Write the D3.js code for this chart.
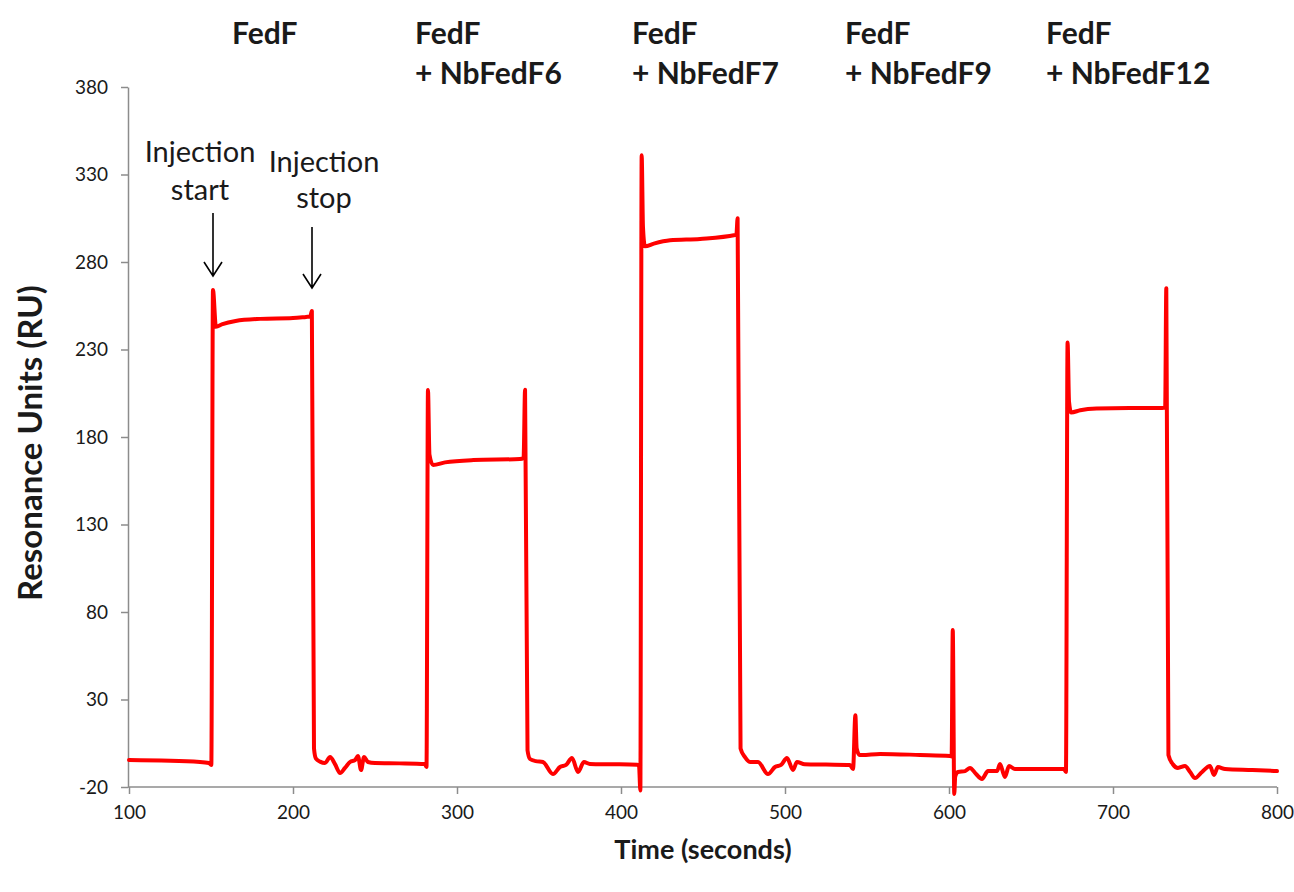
<!DOCTYPE html>
<html>
<head>
<meta charset="utf-8">
<script src="https://cdn.jsdelivr.net/npm/d3@7"></script>
<style>
  html, body { margin: 0; padding: 0; background: #fff; }
  svg { display: block; font-family: Lato, "Open Sans", sans-serif; }
</style>
</head>
<body>
<svg id="chart" width="1294" height="892"></svg>
<script>
// ---- data ----
const timeSec = [
  100, 143.3, 148.8, 150.2, 151.2, 153, 157, 165, 180, 200, 208, 210.5, 211.5, 212.8, 214, 216.5,
  219.5, 222.6, 225.6, 228.7, 231.7, 234.8, 237.8, 239.6, 241.5, 243.3, 245.7, 250, 265, 280.5, 281.4,
  282.3, 283.2, 285.4, 292.7, 310, 338.4, 340.6, 341.5, 343, 344.5, 348,
  352.4, 358.5, 362.8, 366.5, 370.1, 373.8, 377.4, 381, 395, 409.8, 411, 411.8,
  412.6, 413.4, 414.6, 420, 429.9, 448.2, 469.6, 470.4, 471.1, 472.9, 475.6, 478.7,
  483.5, 489.6, 493.9, 497.6, 501.2, 504.9, 507.3, 512, 525, 539.6, 541.5,
  542.9, 543.7, 545.5, 547, 558, 582.3, 600.6, 601.6, 602.3, 603.2, 603.8, 605.5,
  609.8, 612.8, 616.5, 620.1, 623.8, 629.3, 631.1, 634.1, 636.6, 640.2, 655, 670.1, 671.3,
  672.3, 673.2, 674.5, 680, 690, 710, 730, 731.8, 732.5, 733.8, 736.5, 739.6,
  743.9, 747, 750, 754.3, 759.1, 761.6, 764, 768.3, 785, 800
];
const ruValues = [
  -4.6, -5.7, -6.3, -7.4, 264, 243, 244.5, 246.3, 247.5, 248, 248.6, 248.8, 252, 2, -3.8, -5.5,
  -6.3, -2.9, -6.9, -12, -9.1, -5.7, -4.6, -2.3, -10.3, -2.9, -5.7, -6.3, -6.5, -6.9, -8.6,
  206.9, 170, 164, 165.5, 166.8, 167.4, 168, 207, 1, -4, -5.2,
  -5.7, -12.6, -8.6, -7.4, -3.4, -11.4, -5.7, -6.8, -7, -7.3, -8, -22,
  341, 300, 289, 290.5, 292.4, 293.2, 295.4, 296, 305, 2, -2.9, -5.7,
  -5.7, -12.6, -8.6, -7.4, -3.4, -10.3, -5.7, -7, -7.2, -7.4, -9.7,
  21, 2, -1.7, -1.7, -1.1, -1.7, -2.3, -2.6, 69.7, -24, -14, -11.4,
  -10.9, -9.1, -12.6, -15.4, -10.9, -10.9, -6.9, -14.3, -8, -9.7, -9.7, -9.7, -11.4,
  234, 200, 194, 195.3, 196.3, 196.6, 196.6, 196.8, 265, -1.7, -7, -9.1,
  -8, -11.4, -14.9, -11.4, -8, -13.1, -8.6, -9.7, -10.3, -10.9
];
const xTicks = [100, 200, 300, 400, 500, 600, 700, 800];
const yTicks = [-20, 30, 80, 130, 180, 230, 280, 330, 380];
const sampleLine1 = ["FedF", "FedF", "FedF", "FedF", "FedF"];
const sampleLine2 = ["", "+ NbFedF6", "+ NbFedF7", "+ NbFedF9", "+ NbFedF12"];
const noteLine1 = ["Injection", "Injection"];
const noteLine2 = ["start", "stop"];
const xTitle = "Time (seconds)";
const yTitle = "Resonance Units (RU)";

// ---- layout ----
const plot = { left: 129, right: 1277, top: 87, bottom: 787 };
const sampleLabelX = [232, 415, 632, 845, 1046];
const sampleY1 = 44, sampleY2 = 84;
const notes = [
  { cx: 200, y1: 162, y2: 200, ax: 213, ay1: 213, ay2: 276 },
  { cx: 324, y1: 172, y2: 208, ax: 312, ay1: 227, ay2: 288 }
];

const svg = d3.select("#chart");
const x = d3.scaleLinear().domain([100, 800]).range([plot.left, plot.right]);
const y = d3.scaleLinear().domain([-20, 380]).range([plot.bottom, plot.top]);
const axisColor = "#8c8c8c";
const fmt = d => String(d);

// y axis
const gy = svg.append("g")
  .attr("transform", `translate(${plot.left - 1},0)`)
  .call(d3.axisLeft(y).tickValues(yTicks).tickFormat(fmt).tickSize(7).tickSizeOuter(0).tickPadding(13));
gy.select(".domain").attr("stroke", axisColor).attr("stroke-width", 1.5);
gy.selectAll(".tick line").attr("stroke", axisColor).attr("stroke-width", 1.5);
gy.selectAll(".tick text").attr("fill", "#1a1a1a").style("font-size", "19px").style("font-family", "Lato, sans-serif");

// x axis
const gx = svg.append("g")
  .attr("transform", `translate(0,${plot.bottom})`)
  .call(d3.axisBottom(x).tickValues(xTicks).tickFormat(fmt).tickSize(7).tickSizeOuter(0).tickPadding(12));
gx.select(".domain").attr("stroke", axisColor).attr("stroke-width", 1.5)
  .attr("d", `M${plot.left - 1},0H${plot.right}`);
gx.selectAll(".tick line").attr("stroke", axisColor).attr("stroke-width", 1.5);
gx.selectAll(".tick text").attr("fill", "#1a1a1a").style("font-size", "19px").style("font-family", "Lato, sans-serif");

// data line
const pts = timeSec.map((t, i) => [t, ruValues[i]]);
svg.append("path")
  .datum(pts)
  .attr("fill", "none")
  .attr("stroke", "#ff0000")
  .attr("stroke-width", 4)
  .attr("stroke-linejoin", "round")
  .attr("stroke-linecap", "round")
  .attr("d", d3.line().curve(d3.curveMonotoneX).x(d => x(d[0])).y(d => y(d[1])));

// axis titles
svg.append("text")
  .attr("x", 703).attr("y", 859)
  .attr("text-anchor", "middle")
  .style("font-size", "27px").style("font-weight", "bold").attr("fill", "#1a1a1a")
  .text(xTitle);
svg.append("text")
  .attr("transform", "translate(42,443) rotate(-90)")
  .attr("text-anchor", "middle")
  .style("font-size", "33px").style("font-weight", "bold").attr("fill", "#1a1a1a")
  .text(yTitle);

// sample labels
sampleLine1.forEach((s, i) => {
  svg.append("text").attr("x", sampleLabelX[i]).attr("y", sampleY1)
    .style("font-size", "30px").style("font-weight", "bold").attr("fill", "#1a1a1a").text(s);
  if (sampleLine2[i]) svg.append("text").attr("x", sampleLabelX[i]).attr("y", sampleY2)
    .style("font-size", "30px").style("font-weight", "bold").attr("fill", "#1a1a1a").text(sampleLine2[i]);
});

// injection annotations
notes.forEach((n, i) => {
  svg.append("text").attr("x", n.cx).attr("y", n.y1).attr("text-anchor", "middle")
    .style("font-size", "29px").attr("fill", "#1a1a1a").text(noteLine1[i]);
  svg.append("text").attr("x", n.cx).attr("y", n.y2).attr("text-anchor", "middle")
    .style("font-size", "29px").attr("fill", "#1a1a1a").text(noteLine2[i]);
  svg.append("path")
    .attr("d", `M${n.ax},${n.ay1}V${n.ay2}M${n.ax - 9},${n.ay2 - 14}L${n.ax},${n.ay2}L${n.ax + 9},${n.ay2 - 14}`)
    .attr("fill", "none").attr("stroke", "#000").attr("stroke-width", 1.6);
});
</script>
</body>
</html>
